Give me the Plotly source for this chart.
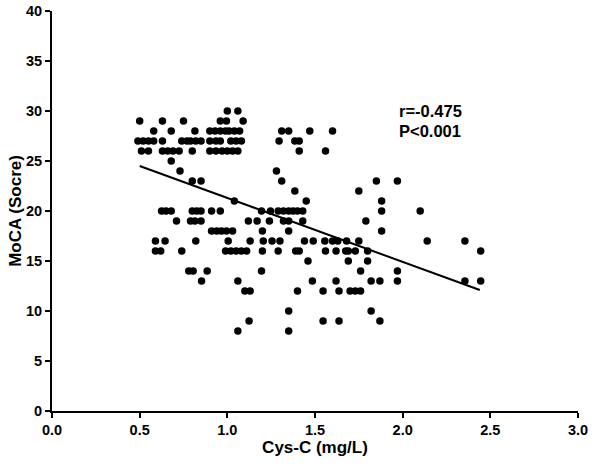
import plotly.graph_objects as go

levels = [30, 29, 28, 27, 26, 25, 24, 23, 22, 21, 20, 19, 18, 17, 16, 15, 14, 13, 12, 10, 9, 8]
cys_by_level = [
    [1.00, 1.06],
    [0.50, 0.63, 0.75, 0.96, 0.995, 1.09],
    [0.58, 0.68, 0.815, 0.90, 0.93, 0.96, 0.99, 1.01, 1.04, 1.07, 1.31, 1.35, 1.47, 1.60],
    [0.49, 0.52, 0.55, 0.58, 0.63, 0.74, 0.77, 0.79, 0.82, 0.85, 0.90, 0.935, 0.96, 1.02, 1.05, 1.08, 1.295, 1.385, 1.41],
    [0.51, 0.55, 0.63, 0.66, 0.69, 0.725, 0.80, 0.90, 0.935, 0.97, 1.00, 1.03, 1.06, 1.41, 1.56],
    [0.68],
    [0.73, 1.28],
    [0.80, 0.85, 1.31, 1.85, 1.97],
    [1.385, 1.75],
    [1.04, 1.45, 1.88],
    [0.625, 0.65, 0.68, 0.80, 0.825, 0.85, 0.91, 0.96, 1.195, 1.246, 1.29, 1.32, 1.35, 1.375, 1.40, 1.43, 1.88, 2.10],
    [0.71, 0.79, 0.815, 0.85, 1.12, 1.17, 1.24, 1.32, 1.35, 1.43, 1.79],
    [0.91, 0.94, 0.967, 0.995, 1.03, 1.20, 1.35, 1.88],
    [0.59, 0.645, 0.82, 1.005, 1.13, 1.205, 1.255, 1.30, 1.44, 1.49, 1.556, 1.60, 1.63, 1.68, 1.75, 2.14, 2.355],
    [0.59, 0.62, 0.74, 0.99, 1.02, 1.05, 1.08, 1.11, 1.20, 1.29, 1.39, 1.41, 1.56, 1.62, 1.675, 1.69, 1.73, 1.80, 2.445],
    [1.46, 1.69, 1.80],
    [0.78, 0.805, 0.885, 1.195, 1.76, 1.97],
    [0.853, 1.06, 1.485, 1.62, 1.82, 1.87, 1.97, 2.355, 2.445],
    [1.10, 1.13, 1.40, 1.546, 1.637, 1.70, 1.73, 1.76],
    [1.35, 1.82],
    [1.124, 1.546, 1.637, 1.87],
    [1.06, 1.35],
]

# Regression line end points
fit_x = [0.5, 2.44]
fit_y = [24.5, 12.1]

x_ticks = [0, 0.5, 1.0, 1.5, 2.0, 2.5, 3.0]
y_ticks = [0, 5, 10, 15, 20, 25, 30, 35, 40]

xs, ys = [], []
for lv, vals in zip(levels, cys_by_level):
    for v in vals:
        xs.append(v)
        ys.append(lv)

FONT = "Liberation Sans, Arial, sans-serif"

fig = go.Figure()
fig.add_trace(go.Scatter(x=xs, y=ys, mode="markers",
                         marker=dict(color="black", size=7.5, line=dict(width=0)),
                         showlegend=False, hoverinfo="skip", cliponaxis=False))
fig.add_trace(go.Scatter(x=fit_x, y=fit_y, mode="lines",
                         line=dict(color="black", width=2),
                         showlegend=False, hoverinfo="skip"))

axis_common = dict(showline=True, linecolor="black", linewidth=2,
                   ticks="outside", ticklen=5, tickwidth=2, tickcolor="black",
                   showgrid=False, zeroline=False, automargin=False,
                   tickfont=dict(family=FONT, size=14.5, color="black", weight="bold"))

fig.update_xaxes(range=[0, 3.0], tickvals=x_ticks, tickformat=".1f",
                 title=dict(text="<b>Cys-C (mg/L)</b>", standoff=2,
                            font=dict(family=FONT, size=17, color="black")),
                 **axis_common)
fig.update_yaxes(range=[0, 40], tickvals=y_ticks,
                 title=dict(text="<b>MoCA (Socre)</b>", standoff=0,
                            font=dict(family=FONT, size=17, color="black")),
                 **axis_common)

fig.add_annotation(x=1.97, y=30.0, xref="x", yref="y", text="<b>r=-0.475</b>",
                   showarrow=False, xanchor="left", yanchor="middle",
                   font=dict(family=FONT, size=16.5, color="black"))
fig.add_annotation(x=1.97, y=28.0, xref="x", yref="y", text="<b>P<0.001</b>",
                   showarrow=False, xanchor="left", yanchor="middle",
                   font=dict(family=FONT, size=16.5, color="black"))

fig.update_layout(width=600, height=466,
                  margin=dict(l=52, r=22, t=11, b=55),
                  plot_bgcolor="white", paper_bgcolor="white")

fig.write_html("out.html", config={"displayModeBar": False},
               post_script="document.body.style.margin='0';document.body.style.padding='0';")
